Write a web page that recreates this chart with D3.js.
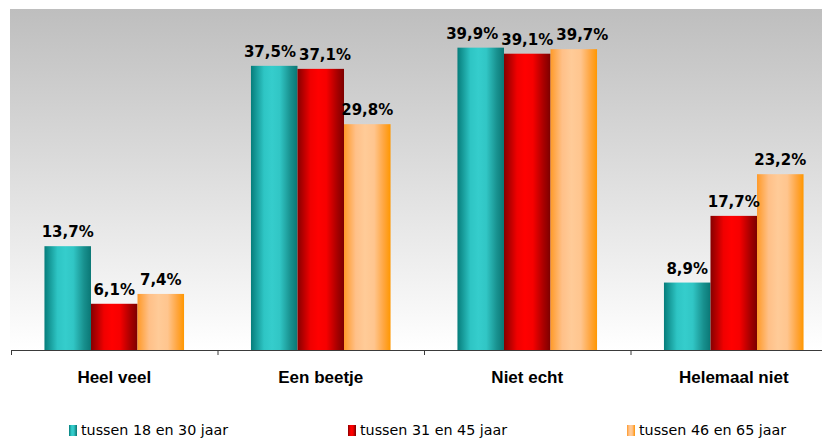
<!DOCTYPE html>
<html>
<head>
<meta charset="utf-8">
<script src="https://cdn.jsdelivr.net/npm/d3@7"></script>
<style>
  html, body { margin: 0; padding: 0; background: #ffffff; }
  svg { display: block; }
</style>
</head>
<body>
<svg id="chart" width="822" height="438"></svg>
<script>
// Answers per category, split by age group (percent)
const categories = ["Heel veel", "Een beetje", "Niet echt", "Helemaal niet"];
const seriesNames = ["tussen 18 en 30 jaar", "tussen 31 en 45 jaar", "tussen 46 en 65 jaar"];
const age18to30 = [13.7, 37.5, 39.9, 8.9];
const age31to45 = [6.1, 37.1, 39.1, 17.7];
const age46to65 = [7.4, 29.8, 39.7, 23.2];
const yDomain = [0, 45];

const seriesValues = [age18to30, age31to45, age46to65];

const W = 822, H = 438;
const plot = { left: 11, right: 837, top: 9, bottom: 350 };

const svg = d3.select("#chart");
const defs = svg.append("defs");

// Plot background: grey fading to white towards the axis
const bg = defs.append("linearGradient")
  .attr("id", "plotBg").attr("x1", 0).attr("y1", 0).attr("x2", 0).attr("y2", 1);
bg.append("stop").attr("offset", "0%").attr("stop-color", "#bebebe");
bg.append("stop").attr("offset", "100%").attr("stop-color", "#ffffff");

// Cylinder-like horizontal shading for each series
const shading = [
  [["0%", "#067d7b"], ["28%", "#2ec5c4"], ["45%", "#35cdcc"], ["62%", "#31c6c5"], ["85%", "#18908e"], ["100%", "#0a7775"]],
  [["0%", "#860000"], ["28%", "#f00000"], ["45%", "#ff0000"], ["62%", "#f70000"], ["85%", "#a80000"], ["100%", "#7c0000"]],
  [["0%", "#ff9a28"], ["25%", "#ffc088"], ["45%", "#ffcb98"], ["65%", "#ffc58e"], ["85%", "#ffa640"], ["100%", "#ff9700"]]
];
shading.forEach((stops, i) => {
  const g = defs.append("linearGradient")
    .attr("id", "bar" + i).attr("x1", 0).attr("y1", 0).attr("x2", 1).attr("y2", 0);
  stops.forEach(([o, c]) => g.append("stop").attr("offset", o).attr("stop-color", c));
});

svg.append("rect")
  .attr("x", plot.left - 1).attr("y", plot.top)
  .attr("width", W - plot.left + 1).attr("height", plot.bottom - plot.top)
  .attr("fill", "url(#plotBg)");

// Scales
const x0 = d3.scaleBand().domain(categories).range([plot.left, plot.right]).paddingInner(0).paddingOuter(0);
const groupPad = x0.bandwidth() * 0.162;
const x1 = d3.scaleBand().domain(d3.range(seriesNames.length))
  .range([groupPad, x0.bandwidth() - groupPad]).padding(0);
const y = d3.scaleLinear().domain(yDomain).range([plot.bottom, plot.top]);

const nl = d3.formatLocale({ decimal: ",", thousands: ".", grouping: [3], currency: ["€", ""] });
const fmt = v => nl.format(".1f")(v) + "%";

const rows = categories.map((c, ci) => ({
  category: c,
  values: seriesValues.map((arr, si) => ({ si, value: arr[ci] }))
}));

// Bars
const groups = svg.append("g").selectAll("g.group")
  .data(rows).join("g")
  .attr("class", "group")
  .attr("transform", d => `translate(${x0(d.category)},0)`);

groups.selectAll("rect")
  .data(d => d.values).join("rect")
  .attr("x", d => x1(d.si))
  .attr("width", x1.bandwidth())
  .attr("y", d => y(d.value))
  .attr("height", d => y(0) - y(d.value))
  .attr("fill", d => `url(#bar${d.si})`);

// Category boundary axis with tick marks between groups
const edge = d3.scaleLinear().domain([0, categories.length]).range([plot.left, plot.right]);
const axisG = svg.append("g")
  .attr("transform", `translate(0,${plot.bottom})`)
  .call(d3.axisBottom(edge).tickValues(d3.range(categories.length + 1)).tickFormat("").tickSize(5).tickSizeOuter(0));
axisG.select(".domain").attr("stroke", "#3a3a3a").attr("stroke-width", 1);
axisG.selectAll(".tick line").attr("stroke", "#3a3a3a");

// Category labels
const catAxis = svg.append("g")
  .attr("transform", `translate(0,${plot.bottom})`)
  .call(d3.axisBottom(x0).tickSize(0));
catAxis.select(".domain").remove();
catAxis.selectAll(".tick text")
  .attr("y", 33).attr("dy", 0)
  .attr("fill", "#000")
  .style("font-family", "'Liberation Sans', Arial, sans-serif")
  .style("font-weight", "bold")
  .style("font-size", "17px");

// Value labels, nudged sideways where neighbours collide
const capH = 11, gap = 3;
groups.each(function (d) {
  const g = d3.select(this);
  const labs = d.values.map(v => {
    const t = g.append("text")
      .attr("text-anchor", "middle")
      .style("font-family", "'DejaVu Sans', Verdana, sans-serif")
      .style("font-weight", "bold")
      .style("font-size", "15px")
      .attr("fill", "#000")
      .text(fmt(v.value));
    return { node: t, cx: x1(v.si) + x1.bandwidth() / 2, base: y(v.value) - 9, w: t.node().getComputedTextLength() };
  });
  for (let it = 0; it < 30; it++) {
    for (let i = 0; i < labs.length - 1; i++) {
      const a = labs[i], b = labs[i + 1];
      if (Math.abs(a.base - b.base) >= capH + 2) continue;
      const over = (a.cx + a.w / 2 + gap) - (b.cx - b.w / 2);
      if (over > 0) { a.cx -= over / 2; b.cx += over / 2; }
    }
  }
  labs.forEach(l => l.node.attr("x", l.cx).attr("y", l.base));
});

// Legend
const legendX = [69, 348, 627];
const legend = svg.append("g").selectAll("g")
  .data(seriesNames).join("g")
  .attr("transform", (d, i) => `translate(${legendX[i]},0)`);
legend.append("rect")
  .attr("x", 0).attr("y", 425).attr("width", 8).attr("height", 11)
  .attr("fill", (d, i) => `url(#bar${i})`);
legend.append("text")
  .attr("x", 12).attr("y", 434.5)
  .style("font-family", "'DejaVu Sans', Verdana, sans-serif")
  .style("font-size", "14.3px")
  .attr("fill", "#000")
  .text(d => d);
</script>
</body>
</html>
